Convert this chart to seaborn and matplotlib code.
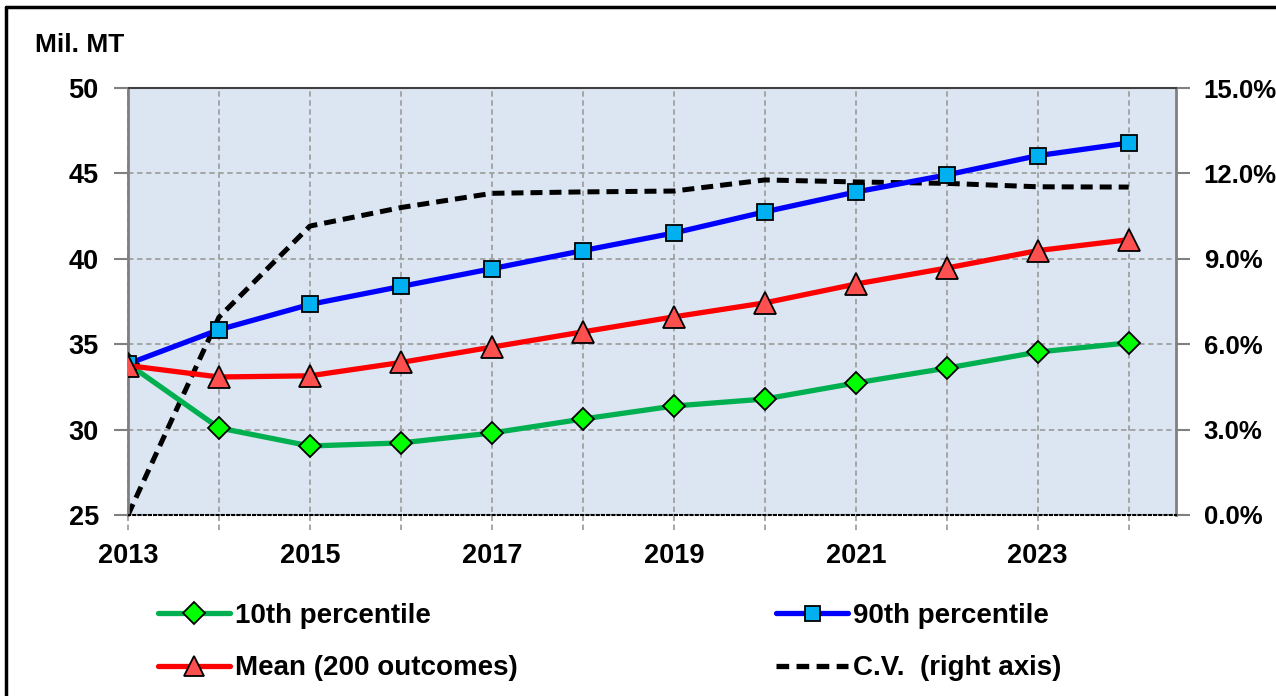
import matplotlib
matplotlib.use("Agg")
import matplotlib.pyplot as plt
import matplotlib.ticker as mticker
from matplotlib.lines import Line2D
import seaborn as sns
import numpy as np

years = [2013, 2014, 2015, 2016, 2017, 2018, 2019, 2020, 2021, 2022, 2023, 2024]
p10 = [33.85, 30.1, 29.04, 29.22, 29.8, 30.62, 31.38, 31.79, 32.73, 33.6, 34.54, 35.08]
p90 = [33.85, 35.85, 37.33, 38.38, 39.42, 40.48, 41.51, 42.75, 43.91, 44.91, 46.04, 46.78]
mean = [33.75, 33.08, 33.15, 33.93, 34.83, 35.72, 36.6, 37.42, 38.52, 39.46, 40.48, 41.12]
cv = [0.0, 6.95, 10.15, 10.8, 11.3, 11.35, 11.38, 11.77, 11.7, 11.65, 11.53, 11.52]

labels = ["10th percentile", "90th percentile", "Mean (200 outcomes)", "C.V.  (right axis)"]
xtick_labels = ["2013", "2015", "2017", "2019", "2021", "2023"]

sns.set_style("white")
plt.rcParams['font.family'] = ['Liberation Sans', 'DejaVu Sans']
plt.rcParams['font.weight'] = 'bold'
plt.rcParams['text.color'] = 'black'

fig = plt.figure(figsize=(12.76, 6.96), dpi=100)
ax = fig.add_axes([128/1276, 1-515/696, (1176-128)/1276, (515-88)/696])
ax2 = ax.twinx()

bg = "#DCE6F2"
ax2.set_zorder(0)
ax.set_zorder(1)
ax.patch.set_visible(False)
ax2.patch.set_visible(True)
ax2.patch.set_facecolor(bg)

lw = 3.8
ms = 12
cv_ls = (0, (2.4, 1.4))
sns.lineplot(x=years, y=cv, ax=ax2, color="black", linewidth=3.6,
             linestyle=cv_ls, zorder=2)

sns.lineplot(x=years, y=p10, ax=ax, color="#00B050", linewidth=lw, marker="D",
             markersize=ms*0.95, markerfacecolor="#00FF00", markeredgecolor="black",
             markeredgewidth=1.3, zorder=3)
sns.lineplot(x=years, y=p90, ax=ax, color="#0000FF", linewidth=lw, marker="s",
             markersize=ms*0.95, markerfacecolor="#00B0F0", markeredgecolor="black",
             markeredgewidth=1.3, zorder=4)
sns.lineplot(x=years, y=mean, ax=ax, color="#FF0000", linewidth=lw, marker="^",
             markersize=ms*1.35, markerfacecolor="#FF5050", markeredgecolor="black",
             markeredgewidth=1.3, zorder=5)

ax.set_xlim(2013, 2024.52)
ax.set_ylim(25, 50)
ax2.set_ylim(0, 15)

ax.set_yticks([25, 30, 35, 40, 45, 50])
ax2.set_yticks([0, 3, 6, 9, 12, 15])
ax2.yaxis.set_major_formatter(mticker.FuncFormatter(lambda v, p: f"{v:.1f}%"))
ax.set_xticks([int(t) for t in xtick_labels])
ax.set_xticklabels(xtick_labels)
ax.set_xticks(years, minor=True)

fs = 19.5
ax.tick_params(axis="both", which="both", labelsize=fs, colors="black")
ax2.tick_params(axis="both", which="both", labelsize=18.5, colors="black")
ax.tick_params(axis="y", length=10, width=1.5, color="#808080", pad=11)
ax2.tick_params(axis="y", length=10, width=1.5, color="#808080", pad=10)
ax.tick_params(axis="x", which="both", length=0, pad=20)

gridkw = dict(color="#A0A0A0", linestyle=(0, (3, 2)), linewidth=1.3)
ax2.yaxis.grid(True, **gridkw)
ax2.set_axisbelow(True)
for yr in years:
    ax2.axvline(yr, ymin=-0.035, ymax=1, clip_on=False, zorder=0.5, **gridkw)

for a in (ax, ax2):
    for s in a.spines.values():
        s.set_visible(False)
for side in ("left", "right"):
    ax2.spines[side].set_visible(True)
    ax2.spines[side].set_color("#808080")
    ax2.spines[side].set_linewidth(2)
ax2.spines["top"].set_visible(True)
ax2.spines["top"].set_color("#404040")
ax2.spines["top"].set_linewidth(1.5)
ax2.spines["bottom"].set_visible(True)
ax2.spines["bottom"].set_color("black")
ax2.spines["bottom"].set_linestyle((0, (1, 1.5)))
ax2.spines["bottom"].set_linewidth(1.5)

ax.set_xlabel("")
ax.set_ylabel("")
ax2.set_ylabel("")

fig.text(35/1276, 1-45/696, "Mil. MT", fontsize=19, fontweight="bold", color="black",
         va="center", ha="left")

def h(color, mk, mfc, msz, ls="-"):
    return Line2D([], [], color=color, linewidth=lw, linestyle=ls,
                  marker=mk, markersize=msz, markerfacecolor=mfc, markeredgecolor="black",
                  markeredgewidth=1.3)

h10 = h("#00B050", "D", "#00FF00", ms*0.9)
h90 = h("#0000FF", "s", "#00B0F0", ms*0.9)
hm = h("#FF0000", "^", "#FF5050", ms*1.25)
hcv = h("black", None, "none", 0, ls=cv_ls)

lfs = 20
legkw = dict(frameon=False, handlelength=2.6, handletextpad=0.18,
             labelspacing=0.95, borderpad=0, borderaxespad=0, labelcolor="black",
             prop={"weight": "bold", "size": lfs})
leg1 = fig.legend([h10, hm], [labels[0], labels[2]], loc="upper left",
                  bbox_to_anchor=(158/1276, 1-603/696), **legkw)
leg2 = fig.legend([h90, hcv], [labels[1], labels[3]], loc="upper left",
                  bbox_to_anchor=(776/1276, 1-603/696), **legkw)

fig.add_artist(Line2D([6/1276, 6/1276], [0, 1-7/696], transform=fig.transFigure,
                      color="black", linewidth=2.5))
fig.add_artist(Line2D([6/1276, 1], [1-7/696, 1-7/696], transform=fig.transFigure,
                      color="black", linewidth=2.5))

fig.savefig("out.png", dpi=100, facecolor="white")
